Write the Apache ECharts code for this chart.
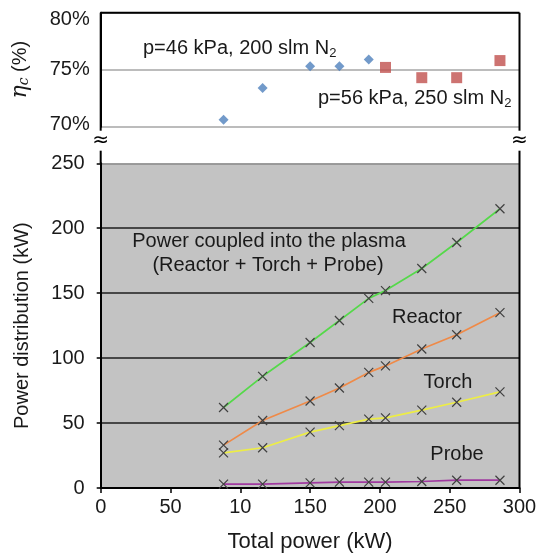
<!DOCTYPE html>
<html>
<head>
<meta charset="utf-8">
<script src="https://cdn.jsdelivr.net/npm/echarts@6/dist/echarts.min.js"></script>
<style>html,body{margin:0;padding:0;background:#fff}#c{width:542px;height:558px}</style>
</head>
<body>
<div id="c"></div>
<script>
// ---- data ----
const effPower46 = [88, 116, 150, 171, 192];
const eff46 = [70.6, 73.4, 75.3, 75.3, 75.9];
const effPower56 = [204, 230, 255, 286];
const eff56 = [75.2, 74.3, 74.3, 75.8];
const totalPower = [88, 116, 150, 171, 192, 204, 230, 255, 286];
const coupled = [62, 86, 112, 129, 146, 152, 169, 189, 215];
const reactor = [33, 52, 67, 77, 89, 94, 107, 118, 135];
const torch = [27, 31, 43, 48, 53, 54, 60, 66, 74];
const probe = [3, 3, 4, 4.5, 4.5, 4.5, 5, 6, 6];
const xTickLabels = ["0", "50", "10", "150", "200", "250", "300"];
const effTickLabels = ["70%", "75%", "80%"];

const FONT = 'Liberation Sans, Arial, sans-serif';
const TXT = '#1a1a1a';
const pair = (xs, ys) => xs.map((x, i) => [x, ys[i]]);
const crossSym = 'path://M0,0L10,10M10,0L0,10';

function lineSeries(name, ys, color) {
  return {
    name, type: 'line', xAxisIndex: 1, yAxisIndex: 1,
    data: pair(totalPower, ys),
    symbol: crossSym, symbolSize: 9,
    itemStyle: { color: 'rgba(0,0,0,0)', borderColor: '#404040', borderWidth: 1.2 },
    lineStyle: { color: color, width: 1.7 },
    emphasis: { disabled: true }, animation: false, z: 3
  };
}

const chart = echarts.init(document.getElementById('c'), null, { renderer: 'canvas' });
const option = {
  animation: false,
  textStyle: { fontFamily: FONT },
  grid: [
    { left: 100.7, right: 22.5, top: 12.7, height: 114 },
    { left: 100.7, right: 22.5, top: 163.3, bottom: 68, show: true, backgroundColor: '#c3c3c3', borderWidth: 0 }
  ],
  xAxis: [
    { gridIndex: 0, type: 'value', min: 0, max: 300, interval: 50, show: false },
    {
      gridIndex: 1, type: 'value', min: 0, max: 300, interval: 50,
      axisLine: { lineStyle: { color: '#000', width: 2 } },
      axisTick: { show: true, inside: false, length: 5, lineStyle: { color: '#000', width: 1.5 } },
      splitLine: { show: false },
      axisLabel: { color: TXT, fontSize: 20, fontFamily: FONT, margin: 9,
        formatter: (v) => xTickLabels[Math.round(v / 50)] },
      name: 'Total power (kW)', nameLocation: 'middle', nameGap: 43,
      nameTextStyle: { color: TXT, fontSize: 22, fontFamily: FONT }
    }
  ],
  yAxis: [
    {
      gridIndex: 0, type: 'value', min: 70, max: 80, interval: 5,
      axisLine: { show: true, lineStyle: { color: '#000', width: 2 } },
      axisTick: { show: false },
      splitLine: { show: true, lineStyle: { color: '#a6a6a6', width: 1.5 } },
      axisLabel: { color: TXT, fontSize: 20, fontFamily: FONT, margin: 11,
        formatter: (v) => {
          const i = Math.round((v - 70) / 5);
          return i === 2 ? '{lo|' + effTickLabels[i] + '}' : (i === 0 ? '{hi|' + effTickLabels[i] + '}' : effTickLabels[i]);
        },
        rich: {
          lo: { fontSize: 20, fontFamily: FONT, color: TXT, padding: [14, 0, 0, 0] },
          hi: { fontSize: 20, fontFamily: FONT, color: TXT, padding: [0, 0, 4, 0] }
        } },
      name: '{eta|η}{sub|c} (%)', nameLocation: 'middle', nameGap: 69, nameRotate: 90,
      nameTextStyle: { color: TXT, fontSize: 20, fontFamily: FONT,
        rich: {
          eta: { fontSize: 22, fontStyle: 'italic', fontFamily: 'DejaVu Serif', color: TXT },
          sub: { fontSize: 14, fontStyle: 'italic', fontFamily: 'DejaVu Serif', color: TXT, verticalAlign: 'bottom', padding: [8, 0, 0, 0] }
        } }
    },
    {
      gridIndex: 1, type: 'value', min: 0, max: 250, interval: 50,
      axisLine: { show: true, lineStyle: { color: '#000', width: 2 } },
      axisTick: { show: true, inside: false, length: 4, lineStyle: { color: '#000', width: 1.5 } },
      splitLine: { show: true, lineStyle: { color: ['#000', '#1e1e1e', '#1e1e1e', '#1e1e1e', '#1e1e1e', '#8a8a8a'], width: 1.5 } },
      axisLabel: { color: TXT, fontSize: 20, fontFamily: FONT, margin: 16 },
      name: 'Power distribution (kW)', nameLocation: 'middle', nameGap: 68,
      nameTextStyle: { color: TXT, fontSize: 20, fontFamily: FONT }
    }
  ],
  series: [
    { name: 'p46', type: 'scatter', xAxisIndex: 0, yAxisIndex: 0, data: pair(effPower46, eff46),
      symbol: 'diamond', symbolSize: 10, itemStyle: { color: '#4f81bd' }, z: 4 },
    { name: 'p56', type: 'scatter', xAxisIndex: 0, yAxisIndex: 0, data: pair(effPower56, eff56),
      symbol: 'rect', symbolSize: 11, itemStyle: { color: '#c0504d' }, z: 4 },
    lineSeries('Coupled', coupled, '#55d94a'),
    lineSeries('Reactor', reactor, '#ef8a48'),
    lineSeries('Torch', torch, '#eded45'),
    lineSeries('Probe', probe, '#a03aa0')
  ]
};
chart.setOption(option);

// frame lines & annotations (computed from the axes)
const pTL = chart.convertToPixel({ gridIndex: 0 }, [0, 80]);
const pTR = chart.convertToPixel({ gridIndex: 0 }, [300, 80]);
const p70 = chart.convertToPixel({ gridIndex: 0 }, [0, 70]);
const pBL = chart.convertToPixel({ gridIndex: 1 }, [0, 250]);
const pBR = chart.convertToPixel({ gridIndex: 1 }, [300, 0]);
const lineStyle = { stroke: '#000', lineWidth: 2 };
const breakY = p70[1] + 14;
function txt(x, y, text, align, extra) {
  return { type: 'text', x, y, z: 10, style: Object.assign({ text, fill: TXT, font: '20px ' + FONT, align: align || 'center', verticalAlign: 'middle' }, extra || {}) };
}
const richN = { s: { fontSize: 13, fontFamily: FONT, fill: TXT, padding: [10, 0, 0, 0] } };
chart.setOption({
  graphic: [
    { type: 'line', shape: { x1: pTL[0], y1: pTL[1], x2: pTR[0], y2: pTR[1] }, style: lineStyle, z: 5 },
    { type: 'line', shape: { x1: pTL[0], y1: pTL[1], x2: pTL[0], y2: pBL[1] }, style: lineStyle, z: 5 },
    { type: 'line', shape: { x1: pTR[0], y1: pTR[1], x2: pTR[0], y2: pBR[1] }, style: lineStyle, z: 5 },
    { type: 'text', x: pTL[0], y: breakY, z: 11, style: { text: '≈', fill: '#000', font: '20px DejaVu Sans', align: 'center', verticalAlign: 'middle', backgroundColor: '#fff', padding: [0, 0] } },
    { type: 'text', x: pTR[0], y: breakY, z: 11, style: { text: '≈', fill: '#000', font: '20px DejaVu Sans', align: 'center', verticalAlign: 'middle', backgroundColor: '#fff', padding: [0, 0] } },
    { type: 'text', x: 143, y: 48, z: 10, style: { text: 'p=46 kPa, 200 slm N{s|2}', rich: richN, fill: TXT, font: '20px ' + FONT, align: 'left', verticalAlign: 'middle' } },
    { type: 'text', x: 318, y: 98, z: 10, style: { text: 'p=56 kPa, 250 slm N{s|2}', rich: richN, fill: TXT, font: '20px ' + FONT, align: 'left', verticalAlign: 'middle' } },
    txt(269, 241, 'Power coupled into the plasma'),
    txt(268, 265, '(Reactor + Torch + Probe)'),
    txt(427, 317, 'Reactor'),
    txt(448, 382, 'Torch'),
    txt(457, 454, 'Probe')
  ]
});
</script>
</body>
</html>
